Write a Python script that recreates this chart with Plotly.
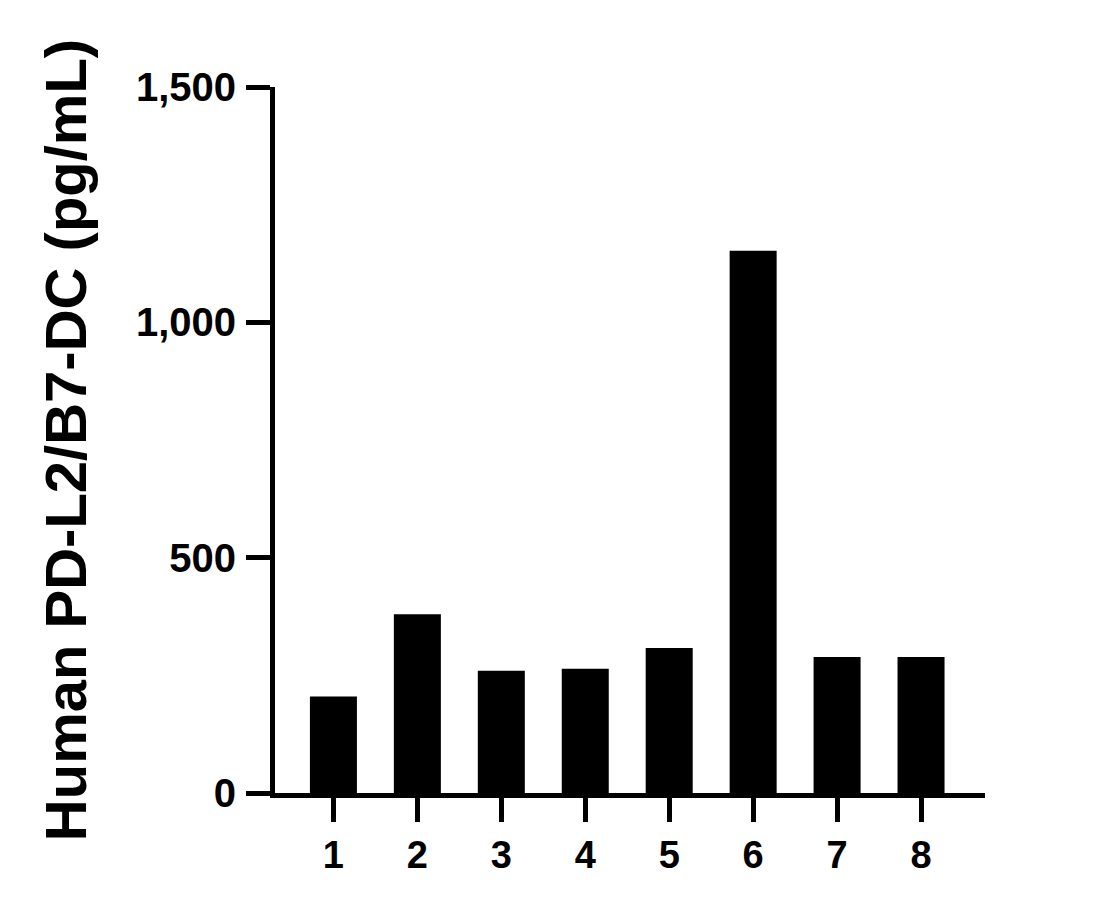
import plotly.graph_objects as go

samples = [1, 2, 3, 4, 5, 6, 7, 8]
concentration = [205, 380, 260, 264, 308, 1152, 289, 289]
y_ticks = [0, 500, 1000, 1500]
y_tick_labels = ["0", "500", "1,000", "1,500"]
y_title = "Human PD-L2/B7-DC (pg/mL)"

font_family = "Liberation Sans, Arial, sans-serif"

fig = go.Figure(
    go.Bar(
        x=samples,
        y=concentration,
        width=0.56,
        marker=dict(color="black", line=dict(width=0)),
    )
)

fig.update_layout(
    width=1120,
    height=911,
    margin=dict(l=266.5, r=143, t=79, b=125.5),
    paper_bgcolor="white",
    plot_bgcolor="white",
    showlegend=False,
    font=dict(family=font_family, color="black"),
)

fig.update_xaxes(
    range=[0.304, 8.762],
    tickmode="array",
    tickvals=samples,
    ticktext=[str(s) for s in samples],
    showline=True,
    linecolor="black",
    linewidth=5,
    ticks="outside",
    ticklen=24,
    tickwidth=5,
    tickcolor="black",
    ticklabelstandoff=0,
    showgrid=False,
    zeroline=False,
    tickfont=dict(size=38, family=font_family, color="black", weight="bold"),
)

fig.update_yaxes(
    range=[0, 1500],
    tickmode="array",
    tickvals=y_ticks,
    ticktext=y_tick_labels,
    showline=True,
    linecolor="black",
    linewidth=5,
    ticks="outside",
    ticklen=24,
    tickwidth=5,
    tickcolor="black",
    ticklabelstandoff=2,
    showgrid=False,
    zeroline=False,
    tickfont=dict(size=40, family=font_family, color="black", weight="bold"),
    title=dict(
        text=y_title,
        font=dict(size=58, family=font_family, color="black", weight="bold"),
        standoff=32,
    ),
)

fig.write_html("out.html")
